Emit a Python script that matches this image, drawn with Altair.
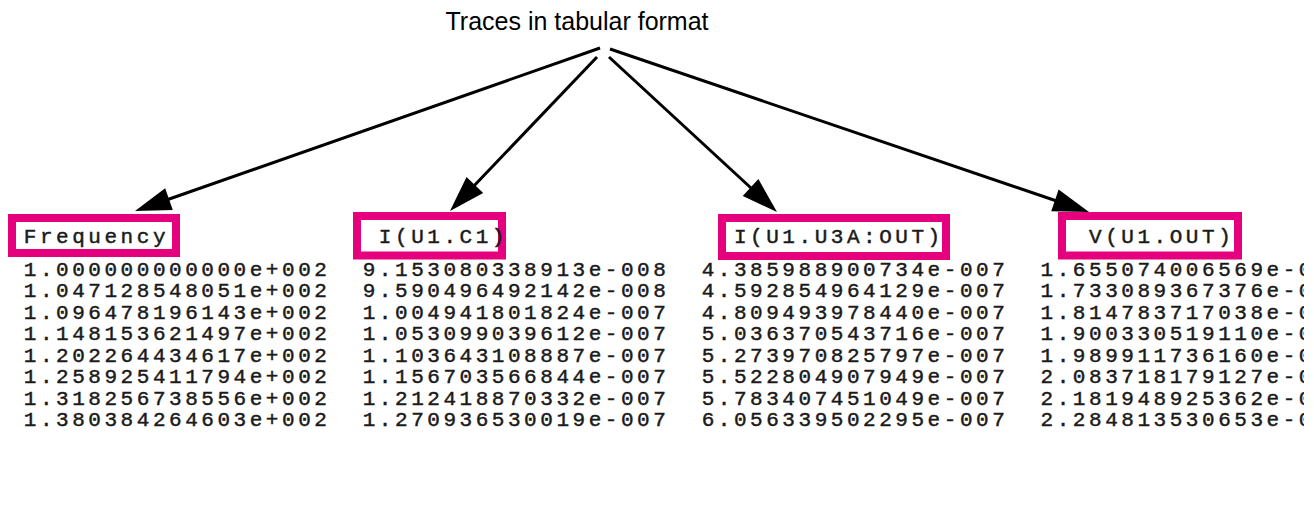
import altair as alt
import numpy as np
import pandas as pd

# ---------------- data ----------------
TITLE = "Traces in tabular format"
HEADERS = ["Frequency", "I(U1.C1)", "I(U1.U3A:OUT)", "V(U1.OUT)"]
FREQUENCY = ["1.000000000000e+002", "1.047128548051e+002", "1.096478196143e+002",
             "1.148153621497e+002", "1.202264434617e+002", "1.258925411794e+002",
             "1.318256738556e+002", "1.380384264603e+002"]
I_C1 = ["9.153080338913e-008", "9.590496492142e-008", "1.004941801824e-007",
        "1.053099039612e-007", "1.103643108887e-007", "1.156703566844e-007",
        "1.212418870332e-007", "1.270936530019e-007"]
I_U3A_OUT = ["4.385988900734e-007", "4.592854964129e-007", "4.809493978440e-007",
             "5.036370543716e-007", "5.273970825797e-007", "5.522804907949e-007",
             "5.783407451049e-007", "6.056339502295e-007"]
# right column is cut off at the picture's edge; only the visible part is kept
V_OUT = ["1.655074006569e-0", "1.733089367376e-0", "1.814783717038e-0",
         "1.900330519110e-0", "1.989911736160e-0", "2.083718179127e-0",
         "2.181948925362e-0", "2.284813530653e-0"]
COLUMNS = [FREQUENCY, I_C1, I_U3A_OUT, V_OUT]

# ---------------- layout (pixel space of the page) ----------------
W, H = 1296, 480
OFF = 8                       # page margin
COL0_X = 22                   # left of first character cell
ADV = 16.14                   # monospace cell width
COL_CHARS = 21                # cells per table column
HEADER_INDENT = [0, 1, 2, 3]  # leading blank cells of the headers
HEADER_BASE = 242.5
ROW0_BASE = 276.0
ROW_STEP = 21.43

TITLE_POS = (577, 30)
BOXES = [(12, 176, 218, 253), (357, 502, 216, 255.5),
         (722, 946, 218, 256), (1062, 1238, 216, 255.5)]
ARROW_FROM = [(600, 48), (597, 57), (609, 57), (610, 49)]
ARROW_TIP = [(135, 211), (450, 211), (777, 212), (1089, 212)]
HEAD_LEN = 36
MAGENTA = "#E5007D"
INK = "#1a1a1a"

XS = alt.Scale(domain=[OFF, OFF + W], nice=False, zero=False)
YS = alt.Scale(domain=[OFF, OFF + H], nice=False, zero=False, reverse=True)

# ---------------- tables for marks ----------------
chars = []
for c, (hdr, vals) in enumerate(zip(HEADERS, COLUMNS)):
    start = COL0_X + COL_CHARS * c * ADV
    for k, ch in enumerate(hdr):
        if ch != " ":
            chars.append({"x": start + (HEADER_INDENT[c] + k + 0.5) * ADV,
                          "y": HEADER_BASE, "ch": ch})
    for r, v in enumerate(vals):
        for k, ch in enumerate(v):
            if ch != " ":
                chars.append({"x": start + (k + 0.5) * ADV,
                              "y": ROW0_BASE + r * ROW_STEP, "ch": ch})
chars_df = pd.DataFrame(chars)

boxes_df = pd.DataFrame(BOXES, columns=["x", "x2", "y", "y2"])

arr = []
for (x0, y0), (tx, ty) in zip(ARROW_FROM, ARROW_TIP):
    dx, dy = tx - x0, ty - y0
    L = np.hypot(dx, dy)
    ux, uy = dx / L, dy / L
    ang = float(np.degrees(np.arctan2(dy, dx)) % 360)
    arr.append({"x0": x0, "y0": y0, "x1": tx - ux * (HEAD_LEN - 8),
                "y1": ty - uy * (HEAD_LEN - 8), "tx": tx, "ty": ty, "ang": ang})
arrows_df = pd.DataFrame(arr)

title_df = pd.DataFrame([{"x": TITLE_POS[0], "y": TITLE_POS[1], "t": TITLE}])

# ---------------- layers ----------------
box_layer = alt.Chart(boxes_df).mark_rect(
    fill="white", stroke=MAGENTA, strokeWidth=8
).encode(
    x=alt.X("x:Q", scale=XS, axis=None), x2="x2:Q",
    y=alt.Y("y:Q", scale=YS, axis=None), y2="y2:Q",
)

text_layer = alt.Chart(chars_df).mark_text(
    font="Liberation Mono", fontSize=21, align="center", baseline="alphabetic",
    color=INK, stroke=INK, strokeWidth=0.45, clip=True
).encode(
    x=alt.X("x:Q", scale=XS, axis=None),
    y=alt.Y("y:Q", scale=YS, axis=None),
    text="ch:N",
)

line_layer = alt.Chart(arrows_df).mark_rule(
    color="black", strokeWidth=3
).encode(
    x=alt.X("x0:Q", scale=XS, axis=None), y=alt.Y("y0:Q", scale=YS, axis=None),
    x2="x1:Q", y2="y1:Q",
)

size = (2 * HEAD_LEN) ** 2
head_layer = alt.Chart(arrows_df).mark_point(
    shape="M0,0L-1,-0.32L-1,0.32Z", filled=True, fill="black", opacity=1,
    strokeWidth=0, size=size
).encode(
    x=alt.X("tx:Q", scale=XS, axis=None),
    y=alt.Y("ty:Q", scale=YS, axis=None),
    angle=alt.Angle("ang:Q", scale=None),
)

title_layer = alt.Chart(title_df).mark_text(
    font="Liberation Sans", fontSize=25, align="center", baseline="alphabetic",
    color="black"
).encode(
    x=alt.X("x:Q", scale=XS, axis=None),
    y=alt.Y("y:Q", scale=YS, axis=None),
    text="t:N",
)

chart = alt.layer(
    box_layer, text_layer, line_layer, head_layer, title_layer
).properties(
    width=W, height=H, padding=0,
    autosize=alt.AutoSizeParams(type="none"),
    background="white",
).configure_view(stroke=None)

chart.save("out.html", embed_options={"renderer": "svg", "actions": False})
